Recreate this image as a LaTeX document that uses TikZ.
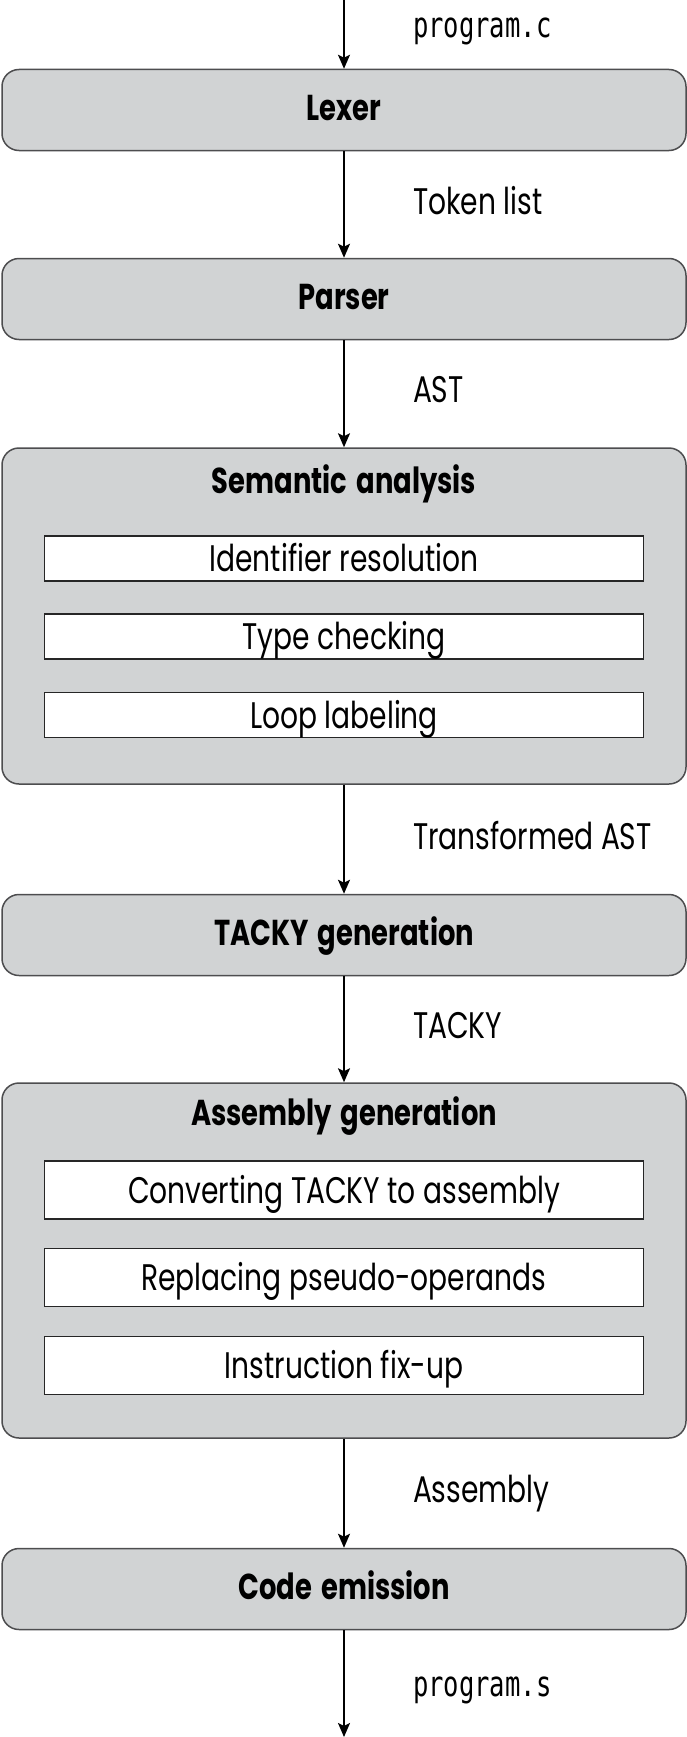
\documentclass[tikz,border=0pt]{standalone}
\usepackage{fontspec}
\setmainfont{Poppins}[FakeStretch=0.76, BoldFeatures={WordSpace=1.6}]
\setmonofont{DejaVu Sans Mono}[FakeStretch=0.73]
\usepackage{tikz}
\usetikzlibrary{arrows.meta,positioning}

\definecolor{stagegrey}{HTML}{D1D3D4}
\definecolor{stageline}{HTML}{4D4D4F}

\tikzset{
	stage/.style={draw=stageline, line width=1.5pt, fill=stagegrey, rounded corners=17pt,
		minimum width=684pt, minimum height=81pt, inner sep=0pt,
		text height=20pt, text depth=0pt,
		font=\fontsize{36}{44}\selectfont\bfseries},
	group/.style={stage, minimum height=#1},
	grouptitle/.style={inner sep=0pt, text height=26pt, text depth=0pt,
		font=\fontsize{36}{44}\selectfont\bfseries},
	pass/.style={draw=black!85, line width=1.3pt, fill=white, inner sep=0pt,
		minimum width=599pt, minimum height=#1, text height=26pt, text depth=0pt,
		font=\fontsize{37}{44}\selectfont},
	lbl/.style={right=68pt, yshift=4pt, inner sep=0pt, text depth=0pt,
		font=\fontsize{37}{44}\selectfont},
	file/.style={font=\ttfamily\fontsize{35}{40}\selectfont},
	flow/.style={-{Stealth[length=14pt,width=12pt,inset=3pt]}, line width=2pt},
}

\begin{document}
\begin{tikzpicture}[x=1pt, y=-1pt]
	\useasboundingbox (0,0) rectangle (687,1737);

	\coordinate (src) at (344,0);
	\coordinate (sink) at (344,1737);

	\node[stage] (lexer) at (344,110) {Lexer};
	\node[stage] (parser) at (344,299) {Parser};

	% semantic analysis
	\node[group=336pt] (sema) at (344,616) {};
	\node[grouptitle] (sematitle) at (344,480) {Semantic analysis};
	\node[pass=45pt] (idres) at (344,558.5) {Identifier resolution};
	\node[pass=45pt] (typecheck) at (344,636.5) {Type checking};
	\node[pass=45pt] (looplab) at (344,715) {Loop labeling};

	\node[stage] (tackygen) at (344,935) {TACKY generation};

	% assembly generation
	\node[group=355pt] (asmgen) at (344,1260.5) {};
	\node[grouptitle] (asmtitle) at (344,1112) {Assembly generation};
	\node[pass=58pt] (convert) at (344,1190) {Converting TACKY to assembly};
	\node[pass=58pt] (pseudo) at (344,1277.5) {Replacing pseudo-operands};
	\node[pass=58pt] (fixup) at (344,1365.5) {Instruction fix-up};

	\node[stage] (emit) at (344,1589) {Code emission};

	\path[flow]
	(src) edge node[lbl,file,yshift=3pt]{program.c} (lexer)
	(lexer) edge node[lbl]{Token list} (parser)
	(parser) edge node[lbl]{AST} (sema)
	(sema) edge node[lbl]{Transformed AST} (tackygen)
	(tackygen) edge node[lbl]{TACKY} (asmgen)
	(asmgen) edge node[lbl]{Assembly} (emit)
	(emit) edge node[lbl,file,yshift=-7pt]{program.s} (sink)
	;
\end{tikzpicture}
\end{document}
